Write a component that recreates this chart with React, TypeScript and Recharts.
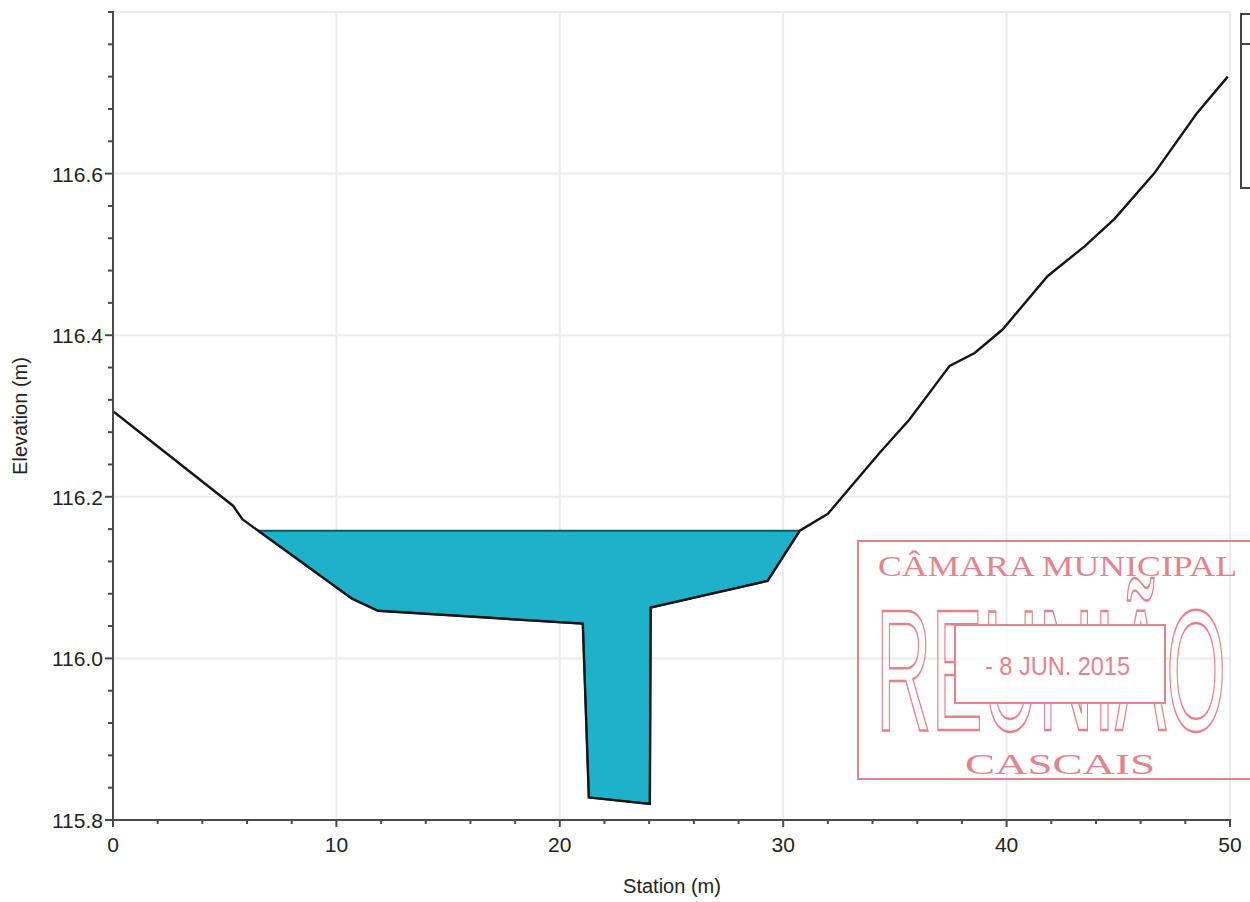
import { ComposedChart, Area, Line, XAxis, YAxis, CartesianGrid } from "recharts";

// ground profile
const STATIONS = [0, 5.37, 5.8, 6.5, 10.7, 11.86, 21.03, 21.3, 24.03, 24.07, 29.3, 30.74, 32.0, 34.3, 35.66, 37.45, 38.57, 39.82, 41.83, 43.49, 44.83, 46.6, 48.5, 49.9];
const ELEVATIONS = [116.306, 116.189, 116.172, 116.158, 116.074, 116.059, 116.043, 115.828, 115.82, 116.063, 116.096, 116.158, 116.179, 116.254, 116.296, 116.362, 116.378, 116.407, 116.473, 116.51, 116.544, 116.6, 116.674, 116.72];
const WATER_LEVEL = 116.158;
const WATER_FROM = 6.5;
const WATER_TO = 30.74;

const X_MAJOR_TICKS = [0, 10, 20, 30, 40, 50];
const X_MINOR_TICKS = [2, 4, 6, 8, 12, 14, 16, 18, 22, 24, 26, 28, 32, 34, 36, 38, 42, 44, 46, 48];
const Y_MAJOR_TICKS = [115.8, 116.0, 116.2, 116.4, 116.6];
const Y_MINOR_TICKS = [115.84, 115.88, 115.92, 115.96, 116.04, 116.08, 116.12, 116.16, 116.24, 116.28, 116.32, 116.36, 116.44, 116.48, 116.52, 116.56, 116.64, 116.68, 116.72, 116.76, 116.8];
const X_GRID = [10, 20, 30, 40];
const Y_GRID = [116.0, 116.2, 116.4, 116.6];

const data = STATIONS.map((s, i) => ({
  station: s,
  ground: ELEVATIONS[i],
  water: s >= WATER_FROM && s <= WATER_TO ? [ELEVATIONS[i], WATER_LEVEL] : null,
}));

const FONT = '"Liberation Sans", Arial, sans-serif';
const AXIS = "#4a4a4a";
const GRID = "#ececec";
const TEXT = "#222";
const STAMP = "#e0646f";

const isMajor = (list: number[], v: number) => list.some((m) => Math.abs(m - v) < 1e-6);

const XTick = (props: any) => {
  const { x, y, payload } = props;
  const major = isMajor(X_MAJOR_TICKS, payload.value);
  return (
    <g>
      <line x1={x} x2={x} y1={y - 1} y2={y + (major ? 7 : 4)} stroke={AXIS} strokeWidth={2} />
      {major && (
        <text x={x} y={y + 32} textAnchor="middle" fontSize={21} fontFamily={FONT} fill={TEXT}>
          {payload.value}
        </text>
      )}
    </g>
  );
};

const YTick = (props: any) => {
  const { x, y, payload } = props;
  const major = isMajor(Y_MAJOR_TICKS, payload.value);
  return (
    <g>
      <line x1={x - (major ? 8 : 5)} x2={x + 1} y1={y} y2={y} stroke={AXIS} strokeWidth={2} />
      {major && (
        <text x={x - 10} y={y + 8} textAnchor="end" fontSize={21} fontFamily={FONT} fill={TEXT}>
          {payload.value.toFixed(1)}
        </text>
      )}
    </g>
  );
};

export default function App() {
  return (
    <div style={{ position: "absolute", left: 0, top: 0, width: 1250, height: 902, background: "#fff", overflow: "hidden" }}>
      <ComposedChart width={1250} height={902} data={data} margin={{ top: 12, right: 20, bottom: 0, left: 0 }}>
        {/* grid only at the inner major ticks, via hidden axes */}
        <XAxis xAxisId="grid" dataKey="station" type="number" domain={[0, 50]} allowDataOverflow ticks={X_GRID} hide />
        <YAxis yAxisId="grid" type="number" domain={[115.8, 116.8]} allowDataOverflow ticks={Y_GRID} hide />
        <CartesianGrid xAxisId="grid" yAxisId="grid" stroke={GRID} strokeWidth={2} />
        <XAxis
          dataKey="station"
          type="number"
          domain={[0, 50]}
          allowDataOverflow
          ticks={[...X_MAJOR_TICKS, ...X_MINOR_TICKS].sort((a, b) => a - b)}
          interval={0}
          tickSize={0}
          tickMargin={0}
          height={82}
          axisLine={{ stroke: AXIS, strokeWidth: 2 }}
          tick={<XTick />}
        />
        <YAxis
          type="number"
          domain={[115.8, 116.8]}
          allowDataOverflow
          ticks={[...Y_MAJOR_TICKS, ...Y_MINOR_TICKS].sort((a, b) => a - b)}
          interval={0}
          tickSize={0}
          tickMargin={0}
          width={113}
          axisLine={{ stroke: AXIS, strokeWidth: 2 }}
          tick={<YTick />}
        />
        <Area
          type="linear"
          dataKey="water"
          fill="#1fb1c9"
          fillOpacity={1}
          stroke="#1d4f5e"
          strokeWidth={2}
          isAnimationActive={false}
        />
        <Line
          type="linear"
          dataKey="ground"
          stroke="#151515"
          strokeWidth={2.4}
          dot={false}
          isAnimationActive={false}
        />
      </ComposedChart>

      {/* axis titles */}
      <div style={{ position: "absolute", left: 572, top: 874, width: 200, textAlign: "center", fontFamily: FONT, fontSize: 20, lineHeight: "24px", color: TEXT }}>
        Station (m)
      </div>
      <div
        style={{
          position: "absolute",
          left: 20 - 100,
          top: 416 - 12,
          width: 200,
          textAlign: "center",
          fontFamily: FONT,
          fontSize: 20,
          lineHeight: "24px",
          color: TEXT,
          transform: "rotate(-90deg)",
        }}
      >
        Elevation (m)
      </div>

      {/* legend box, cut off at the right edge */}
      <div style={{ position: "absolute", left: 1240, top: 13, width: 40, height: 172, border: "2px solid #444", background: "#fff" }}>
        <div style={{ position: "absolute", left: 0, right: 0, top: 28, borderTop: "2px solid #444" }} />
      </div>

      {/* registry stamp */}
      <svg width={1250} height={902} style={{ position: "absolute", left: 0, top: 0, pointerEvents: "none" }}>
        <g opacity={0.8}>
          <rect x={858} y={541} width={420} height={238} fill="none" stroke={STAMP} strokeWidth={2} />
          <text x={878} y={576} fontFamily='"Liberation Serif", serif' fontSize={29} fill={STAMP} textLength={359} lengthAdjust="spacingAndGlyphs">
            CÂMARA MUNICIPAL
          </text>
          <text x={876} y={730} fontFamily={FONT} fontSize={172} fill="none" stroke={STAMP} strokeWidth={2.5} textLength={350} lengthAdjust="spacingAndGlyphs">
            REUNIÃO
          </text>
          <rect x={955} y={625} width={210} height={78} fill="#fff" stroke={STAMP} strokeWidth={2} />
          <text x={985} y={675} fontFamily={FONT} fontSize={26} fill={STAMP} textLength={145} lengthAdjust="spacingAndGlyphs">
            - 8 JUN. 2015
          </text>
          <text x={965} y={774} fontFamily='"Liberation Serif", serif' fontSize={29} fill={STAMP} textLength={190} lengthAdjust="spacingAndGlyphs">
            CASCAIS
          </text>
        </g>
      </svg>
    </div>
  );
}
